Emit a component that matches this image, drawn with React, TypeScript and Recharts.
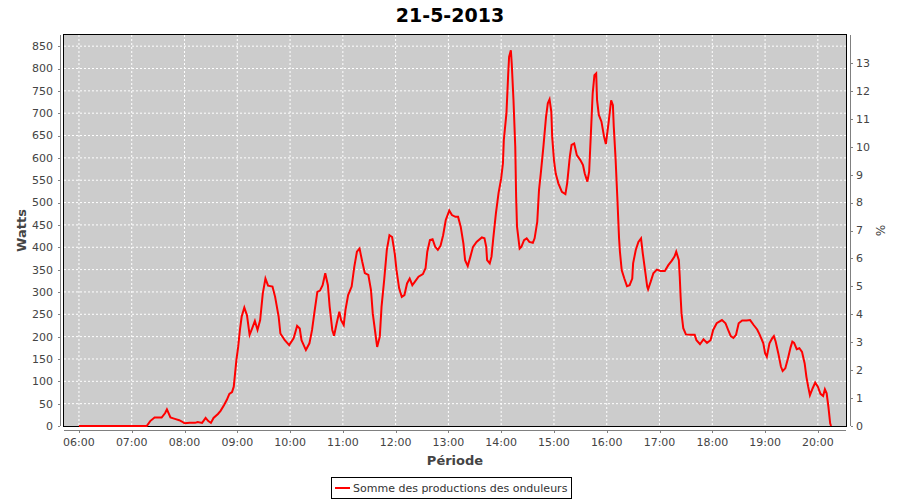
import React from 'react';
import { LineChart, Line, XAxis, YAxis, CartesianGrid, Legend } from 'recharts';

// readings of the inverters (time of day, watts)
const times = [
  '06:00', '07:17', '07:21', '07:26', '07:34', '07:38', '07:40', '07:44', '07:49', '07:54',
  '07:57', '08:00', '08:06', '08:12', '08:15', '08:20', '08:24', '08:27', '08:30', '08:33',
  '08:38', '08:41', '08:45', '08:48', '08:51', '08:54', '08:56', '08:59', '09:01', '09:03',
  '09:05', '09:08', '09:11', '09:14', '09:17', '09:20', '09:23', '09:26', '09:29', '09:32',
  '09:35', '09:40', '09:43', '09:47', '09:49', '09:54', '09:59', '10:04', '10:08', '10:11',
  '10:13', '10:18', '10:22', '10:25', '10:28', '10:31', '10:34', '10:37', '10:40', '10:43',
  '10:45', '10:48', '10:50', '10:53', '10:56', '10:58', '11:01', '11:03', '11:06', '11:10',
  '11:13', '11:16', '11:19', '11:22', '11:25', '11:29', '11:32', '11:34', '11:37', '11:39',
  '11:42', '11:44', '11:47', '11:50', '11:53', '11:56', '11:59', '12:01', '12:04', '12:07',
  '12:10', '12:13', '12:16', '12:19', '12:22', '12:26', '12:31', '12:34', '12:36', '12:39',
  '12:42', '12:45', '12:48', '12:51', '12:54', '12:57', '13:01', '13:04', '13:08', '13:11',
  '13:14', '13:17', '13:19', '13:22', '13:25', '13:28', '13:32', '13:38', '13:41', '13:43',
  '13:44', '13:47', '13:49', '13:51', '13:54', '13:57', '14:00', '14:02', '14:03', '14:06',
  '14:08', '14:09', '14:11', '14:12', '14:14', '14:16', '14:17', '14:18', '14:21', '14:23',
  '14:26', '14:29', '14:32', '14:36', '14:38', '14:41', '14:43', '14:45', '14:48', '14:51',
  '14:53', '14:55', '14:57', '14:58', '15:00', '15:02', '15:05', '15:09', '15:13', '15:15',
  '15:18', '15:20', '15:23', '15:26', '15:30', '15:33', '15:35', '15:38', '15:40', '15:42',
  '15:44', '15:46', '15:48', '15:49', '15:51', '15:54', '15:57', '15:59', '16:02', '16:05',
  '16:07', '16:08', '16:10', '16:12', '16:14', '16:15', '16:17', '16:20', '16:23', '16:26',
  '16:29', '16:30', '16:33', '16:36', '16:39', '16:41', '16:44', '16:46', '16:47', '16:50',
  '16:53', '16:57', '17:01', '17:06', '17:10', '17:14', '17:17', '17:19', '17:22', '17:23',
  '17:24', '17:25', '17:27', '17:30', '17:36', '17:40', '17:42', '17:46', '17:50', '17:54',
  '17:58', '18:01', '18:05', '18:11', '18:15', '18:18', '18:21', '18:24', '18:27', '18:30',
  '18:34', '18:39', '18:43', '18:47', '18:51', '18:54', '18:58', '19:00', '19:02', '19:05',
  '19:08', '19:10', '19:12', '19:15', '19:18', '19:20', '19:23', '19:26', '19:29', '19:31',
  '19:33', '19:36', '19:39', '19:42', '19:45', '19:47', '19:49', '19:51', '19:54', '19:57',
  '20:00', '20:03', '20:06', '20:08', '20:10', '20:12', '20:14', '20:15',
];

const watts = [
  0, 0, 11, 19, 19, 29, 37, 19, 16, 13,
  10, 6, 7, 7, 9, 7, 18, 11, 7, 18,
  27, 34, 47, 58, 72, 76, 88, 148, 177, 215,
  245, 265, 248, 204, 219, 235, 215, 237, 297, 330,
  314, 312, 289, 245, 207, 192, 181, 196, 224, 218,
  192, 170, 185, 215, 259, 300, 303, 315, 342, 315,
  267, 215, 202, 230, 256, 237, 226, 260, 293, 312,
  356, 390, 397, 368, 342, 338, 304, 252, 207, 177,
  200, 267, 327, 394, 427, 423, 386, 349, 308, 289,
  293, 319, 330, 315, 323, 334, 340, 353, 390, 416,
  418, 401, 394, 403, 427, 461, 482, 472, 468, 468,
  446, 409, 371, 358, 379, 401, 412, 422, 420, 401,
  371, 364, 379, 420, 476, 521, 554, 588, 640, 700,
  789, 826, 841, 811, 729, 625, 513, 446, 397, 401,
  416, 420, 412, 410, 420, 457, 528, 565, 625, 692,
  722, 731, 703, 647, 595, 565, 543, 524, 519, 543,
  602, 629, 632, 606, 595, 584, 565, 547, 569, 655,
  744, 785, 789, 729, 696, 681, 647, 631, 677, 729,
  718, 670, 600, 513, 420, 390, 349, 330, 313, 315,
  330, 364, 394, 412, 420, 386, 342, 312, 306, 323,
  342, 350, 347, 347, 360, 370, 379, 390, 371, 334,
  289, 252, 219, 205, 204, 204, 192, 183, 194, 186,
  192, 215, 230, 237, 230, 215, 201, 197, 204, 230,
  236, 236, 237, 226, 216, 204, 185, 163, 155, 185,
  196, 201, 189, 163, 133, 123, 129, 151, 176, 189,
  186, 172, 174, 166, 140, 110, 88, 69, 84, 97,
  88, 72, 67, 82, 73, 43, 6, 0,
];

const hourTicks = [
  '06:00', '07:00', '08:00', '09:00', '10:00', '11:00', '12:00', '13:00',
  '14:00', '15:00', '16:00', '17:00', '18:00', '19:00', '20:00',
];
const wattTicks = [0, 50, 100, 150, 200, 250, 300, 350, 400, 450, 500, 550, 600, 650, 700, 750, 800, 850];
const pctTicks = [0, 1, 2, 3, 4, 5, 6, 7, 8, 9, 10, 11, 12, 13];

const toMin = (s: string) => {
  const [h, m] = s.split(':').map(Number);
  return h * 60 + m;
};
const fmt = (m: number) =>
  `${String(Math.floor(m / 60)).padStart(2, '0')}:${String(m % 60).padStart(2, '0')}`;

const data = times.map((t, i) => ({ t: toMin(t), w: watts[i] }));

// plot frame
const PL = 64;
const PR = 846;
const PT = 35;
const PB = 426;
const X_DOMAIN: [number, number] = [343, 1232];
const W_DOMAIN: [number, number] = [0, 875];
const P_DOMAIN: [number, number] = [0, 14];

const sx = (v: number) => PL + ((v - X_DOMAIN[0]) / (X_DOMAIN[1] - X_DOMAIN[0])) * (PR - PL);
const syW = (v: number) => PB - ((v - W_DOMAIN[0]) / (W_DOMAIN[1] - W_DOMAIN[0])) * (PB - PT);
const syP = (v: number) => PB - ((v - P_DOMAIN[0]) / (P_DOMAIN[1] - P_DOMAIN[0])) * (PB - PT);

const FONT = '"DejaVu Sans", sans-serif';
const AXIS = '#808080';
const tickStyle = { fontSize: 11, fill: '#444', fontFamily: FONT };

const LegendBox = () => (
  <div
    style={{
      border: '1px solid #000',
      background: '#fff',
      height: 20,
      display: 'flex',
      alignItems: 'center',
      padding: '0 4px 0 3px',
      fontFamily: FONT,
      fontSize: 11,
      color: '#333',
      whiteSpace: 'nowrap',
    }}
  >
    <span style={{ display: 'inline-block', width: 15, height: 2, background: '#ff0000', marginRight: 3 }} />
    Somme des productions des onduleurs
  </div>
);

export default function App() {
  return (
    <div style={{ position: 'absolute', left: 0, top: 0, width: 900, height: 500, background: '#fff' }}>
      <svg width={900} height={500} style={{ position: 'absolute', left: 0, top: 0 }}>
        <text x={450} y={22} textAnchor="middle" fontFamily={FONT} fontWeight="bold" fontSize={19} fill="#000">
          21-5-2013
        </text>
        <rect x={PL - 0.5} y={PT - 0.5} width={PR - PL + 1} height={PB - PT + 1} fill="none" stroke="#000" />
        {/* left axis */}
        <line x1={60.5} x2={60.5} y1={PT} y2={PB} stroke={AXIS} />
        {wattTicks.map((v) => (
          <line key={`w${v}`} x1={58} x2={60} y1={Math.round(syW(v)) + 0.5} y2={Math.round(syW(v)) + 0.5} stroke={AXIS} />
        ))}
        {/* right axis */}
        <line x1={850.5} x2={850.5} y1={PT} y2={PB} stroke={AXIS} />
        {pctTicks.map((v) => (
          <line key={`p${v}`} x1={851} x2={853} y1={Math.round(syP(v)) + 0.5} y2={Math.round(syP(v)) + 0.5} stroke={AXIS} />
        ))}
        {/* bottom axis */}
        <line x1={PL} x2={PR} y1={430.5} y2={430.5} stroke={AXIS} />
        {hourTicks.map((h) => (
          <line key={h} x1={Math.round(sx(toMin(h))) + 0.5} x2={Math.round(sx(toMin(h))) + 0.5} y1={431} y2={433} stroke={AXIS} />
        ))}
        <text
          x={21}
          y={(PT + PB) / 2}
          transform={`rotate(-90 21 ${(PT + PB) / 2})`}
          textAnchor="middle"
          dominantBaseline="central"
          fontFamily={FONT}
          fontWeight="bold"
          fontSize={13}
          fill="#444"
        >
          Watts
        </text>
        <text x={(PL + PR) / 2} y={465} textAnchor="middle" fontFamily={FONT} fontWeight="bold" fontSize={13} fill="#444">
          Période
        </text>
        <text
          x={880}
          y={(PT + PB) / 2}
          transform={`rotate(90 880 ${(PT + PB) / 2})`}
          textAnchor="middle"
          dominantBaseline="central"
          fontFamily={FONT}
          fontSize={12}
          fill="#444"
        >
          %
        </text>
      </svg>
      <div style={{ position: 'absolute', left: 0, top: 0 }}>
        <LineChart width={900} height={500} data={data} margin={{ top: PT, right: 0, bottom: 0, left: 0 }}>
          <CartesianGrid
            yAxisId="w"
            stroke="#ffffff"
            strokeDasharray="2 2"
            fill="#cccccc"
            fillOpacity={1}
            horizontalPoints={wattTicks.filter((v) => v > 0).map(syW)}
            verticalPoints={hourTicks.map((h) => sx(toMin(h)))}
          />
          <XAxis
            dataKey="t"
            type="number"
            domain={X_DOMAIN}
            ticks={hourTicks.map(toMin)}
            tickFormatter={fmt}
            height={500 - PB}
            axisLine={false}
            tickLine={false}
            tickSize={0}
            tickMargin={12}
            tick={tickStyle}
          />
          <YAxis
            yAxisId="w"
            type="number"
            domain={W_DOMAIN}
            ticks={wattTicks}
            width={PL}
            axisLine={false}
            tickLine={false}
            tickSize={0}
            tickMargin={11}
            tick={tickStyle}
          />
          <YAxis
            yAxisId="p"
            orientation="right"
            type="number"
            domain={P_DOMAIN}
            ticks={pctTicks}
            width={900 - PR}
            axisLine={false}
            tickLine={false}
            tickSize={0}
            tickMargin={10}
            tick={tickStyle}
            allowDataOverflow
          />
          <Legend
            layout="vertical"
            verticalAlign="middle"
            align="center"
            wrapperStyle={{ top: 477, left: 331, width: 'auto', height: 'auto' }}
            content={() => <LegendBox />}
          />
          <Line
            yAxisId="w"
            dataKey="w"
            type="linear"
            stroke="#ff0000"
            strokeWidth={2}
            dot={false}
            activeDot={false}
            isAnimationActive={false}
          />
        </LineChart>
      </div>
    </div>
  );
}
